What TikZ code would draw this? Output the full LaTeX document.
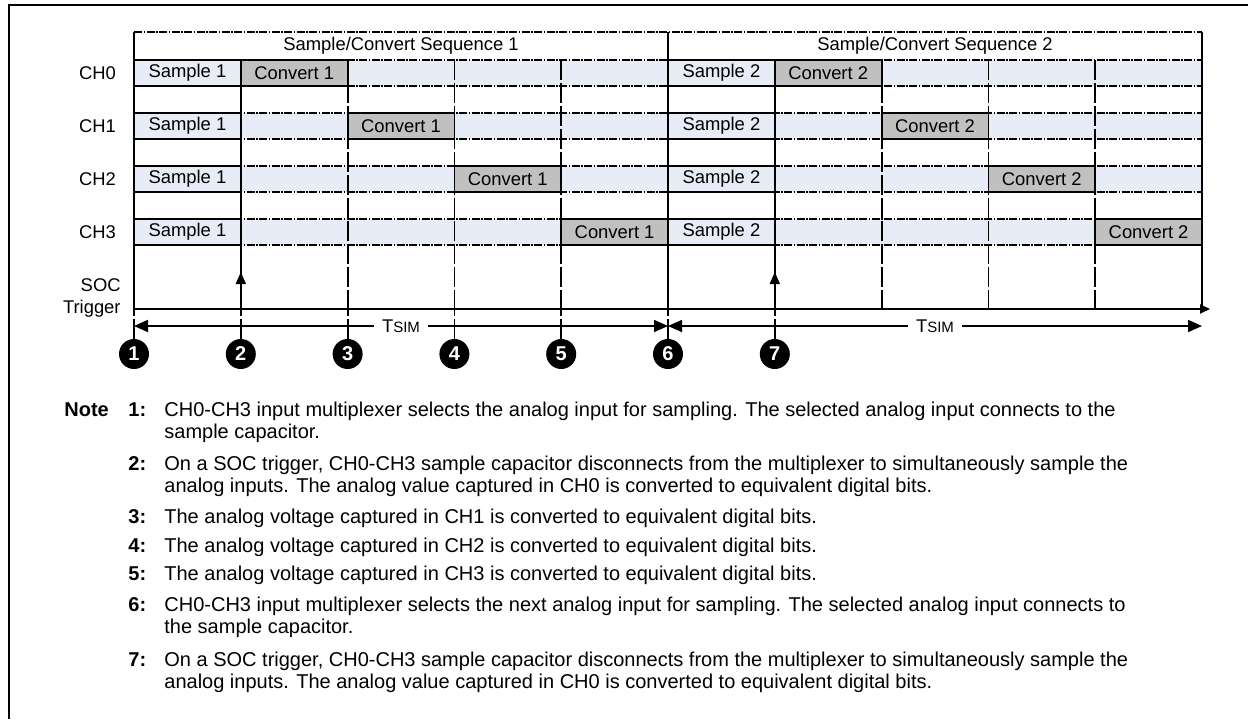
\documentclass[tikz,border=0pt]{standalone}
\usepackage{fontspec}
\setmainfont{Liberation Sans}
\usetikzlibrary{arrows.meta}
\definecolor{bandblue}{RGB}{232,236,247}
\definecolor{convgray}{RGB}{192,192,192}

\begin{document}
\begin{tikzpicture}[x=0.5pt,y=-0.5pt,font=\fontsize{9.2}{11}\selectfont,
    grid/.style={line width=0.9pt},
    hdash/.style={grid,dash pattern=on 4pt off 0.75pt on 0.75pt off 0.75pt},
    vdash/.style={grid,dash pattern=on 10pt off 1.5pt},
    cell/.style={draw,grid,minimum width=53.4pt,minimum height=13pt,inner sep=0pt},
    numcirc/.style={circle,fill=black,text=white,inner sep=0pt,minimum size=15pt,font=\fontsize{10}{11}\bfseries},
    tip/.style={-{Triangle[length=6pt,width=5pt]}},
    notetxt/.style={anchor=base west,align=left,inner sep=0pt,font=\fontsize{10}{11}\selectfont},
    notenum/.style={notetxt,font=\fontsize{10}{11}\bfseries}]
  \useasboundingbox (0,0) rectangle (1248,719);
  % frame
  \draw[line width=1pt] (9,719) -- (9,5) -- (1248,5);

  % channel bands
  \foreach \r in {0,...,3} {
    \pgfmathsetmacro{\yt}{60+53*\r}
    \pgfmathsetmacro{\yb}{86+53*\r}
    \fill[bandblue] (134,\yt) rectangle (1202,\yb);
    \draw[hdash] (134,\yt) -- (1202,\yt);
    \draw[hdash] (134,\yb) -- (1202,\yb);
    \node[anchor=east] (L\r) at (123,{73+53*\r}) {CH\r};
  }
  \draw[hdash] (134,32) -- (1202,32);

  % column lines
  \foreach \k in {2,3,4,7,8,9} {
    \draw[vdash] ({134+106.8*\k},60) -- ({134+106.8*\k},309);
  }
  \foreach \k in {1,6} {
    \draw[grid] ({134+106.8*\k},60) -- ({134+106.8*\k},309);
  }
  \foreach \k in {0,5,10} {
    \draw[grid] ({134+106.8*\k},32) -- ({134+106.8*\k},309);
  }

  % sample and convert cells
  \foreach \s in {1,2} {
    \foreach \r in {0,...,3} {
      \pgfmathsetmacro{\xs}{187.4+534*(\s-1)}
      \pgfmathsetmacro{\xc}{\xs+106.8*(\r+1)}
      \pgfmathsetmacro{\yc}{73+53*\r}
      \node[cell,fill=bandblue] (S\s\r) at (\xs,\yc) {Sample \s};
      \node[cell,fill=convgray] (V\s\r) at (\xc,\yc) {Convert \s};
    }
  }

  \node (H1) at (401,46) {Sample/Convert Sequence 1};
  \node (H2) at (935,46) {Sample/Convert Sequence 2};
  \node[anchor=east,align=right,inner sep=1pt] (SOC) at (123,298) {SOC\\Trigger};

  % time axis
  \coordinate (A0) at (134,309);
  \coordinate (A1) at (1210,309);
  \draw[grid,-{Triangle[length=5pt,width=4.5pt]}] (A0) -- (A1);

  % SOC triggers
  \foreach \k in {1,6} {
    \draw[grid,tip] ({134+106.8*\k},309) -- ({134+106.8*\k},272);
  }

  % numbered events
  \foreach \i in {1,...,7} {
    \node[numcirc] (C\i) at ({134+106.8*(\i-1)},354) {\i};
    \draw[vdash] (C\i.north) -- (C\i |- A0);
  }

  % sample period
  \draw[grid,{Triangle[length=7pt,width=6pt]}-{Triangle[length=7pt,width=6pt]}]
    (C1 |- 0,326) -- node[fill=white,inner xsep=4pt] (T1) {T{\fontsize{7.5}{9}\selectfont SIM}} (C6 |- 0,326);
  \draw[grid,{Triangle[length=7pt,width=6pt]}-{Triangle[length=7pt,width=6pt]}]
    (C6 |- 0,326) -- node[fill=white,inner xsep=4pt] (T2) {T{\fontsize{7.5}{9}\selectfont SIM}} (1202,326);

  % notes (multi-line nodes sit on their last baseline)
  \node[notenum] (Note) at (64,416) {Note};
  \foreach \n/\y in {1/416,2/470,3/523,4/552,5/580,6/611,7/666} {
    \node[notenum] (N\n) at (128,\y) {\n:};
  }
  \node[notetxt] (D1) at (164,438) {CH0-CH3 input multiplexer selects the analog input for sampling. The selected analog input connects to the\\sample capacitor.};
  \node[notetxt] (D2) at (164,492) {On a SOC trigger, CH0-CH3 sample capacitor disconnects from the multiplexer to simultaneously sample the\\analog inputs. The analog value captured in CH0 is converted to equivalent digital bits.};
  \node[notetxt] (D3) at (164,523) {The analog voltage captured in CH1 is converted to equivalent digital bits.};
  \node[notetxt] (D4) at (164,552) {The analog voltage captured in CH2 is converted to equivalent digital bits.};
  \node[notetxt] (D5) at (164,580) {The analog voltage captured in CH3 is converted to equivalent digital bits.};
  \node[notetxt] (D6) at (164,633) {CH0-CH3 input multiplexer selects the next analog input for sampling. The selected analog input connects to\\the sample capacitor.};
  \node[notetxt] (D7) at (164,688) {On a SOC trigger, CH0-CH3 sample capacitor disconnects from the multiplexer to simultaneously sample the\\analog inputs. The analog value captured in CH0 is converted to equivalent digital bits.};
\end{tikzpicture}
\end{document}
